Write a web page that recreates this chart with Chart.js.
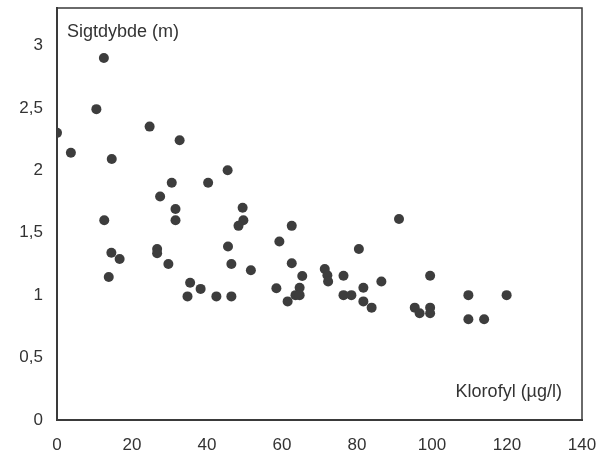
<!DOCTYPE html>
<html>
<head>
<meta charset="utf-8">
<script src="https://cdn.jsdelivr.net/npm/chart.js@4/dist/chart.umd.min.js"></script>
<style>
  html, body { margin: 0; padding: 0; background: #ffffff; }
  #wrap { width: 611px; height: 453px; position: relative; }
</style>
</head>
<body>
<div id="wrap"><canvas id="c" width="611" height="453"></canvas></div>
<script>
// Klorofyl (µg/l)
const klorofyl = [0, 3.7, 12.5, 10.5, 14.6, 24.7, 32.7, 45.5, 30.6, 40.3, 27.5, 31.6, 49.5, 12.6, 31.6, 49.7, 48.4, 62.6, 91.2,
  14.5, 16.7, 13.8, 26.7, 26.7, 29.7, 35.5, 38.3, 34.8, 42.5, 46.5, 45.6, 46.5, 51.7, 59.3, 62.6, 65.4, 58.5, 64.7, 63.6, 64.7, 61.5,
  80.5, 71.4, 72.1, 72.3, 76.4, 76.4, 78.5, 81.7, 81.7, 83.9, 86.5, 99.5, 95.4, 96.7, 99.5, 99.5, 109.7, 109.7, 113.9, 119.9];
// Sigtdybde (m)
const sigtdybde = [2.30, 2.14, 2.90, 2.49, 2.09, 2.35, 2.24, 2.00, 1.90, 1.90, 1.79, 1.69, 1.70, 1.60, 1.60, 1.60, 1.555, 1.555, 1.61,
  1.34, 1.29, 1.145, 1.37, 1.335, 1.25, 1.10, 1.05, 0.99, 0.99, 0.99, 1.39, 1.25, 1.20, 1.43, 1.255, 1.154, 1.055, 1.06, 1.0, 1.0, 0.95,
  1.37, 1.21, 1.16, 1.11, 1.155, 1.0, 1.0, 1.06, 0.95, 0.90, 1.11, 1.156, 0.90, 0.855, 0.90, 0.855, 1.00, 0.807, 0.807, 1.00];
const xTickValues = [0, 20, 40, 60, 80, 100, 120, 140];
const yTickValues = [0, 0.5, 1, 1.5, 2, 2.5, 3];
const yTitle = 'Sigtdybde (m)';
const xTitle = 'Klorofyl (µg/l)';

const points = klorofyl.map((x, i) => ({ x: x, y: sigtdybde[i] }));
const FONT = "'Liberation Sans', Arial, Helvetica, sans-serif";
const INK = '#333333';

const framePlugin = {
  id: 'frame',
  afterDraw(chart) {
    const a = chart.chartArea, ctx = chart.ctx;
    ctx.save();
    ctx.strokeStyle = '#3a3a3a';
    ctx.lineWidth = 1.5;
    ctx.beginPath();
    ctx.moveTo(a.left, a.top);
    ctx.lineTo(a.right, a.top);
    ctx.lineTo(a.right, a.bottom);
    ctx.stroke();
    ctx.fillStyle = INK;
    ctx.font = '18px ' + FONT;
    ctx.textBaseline = 'middle';
    ctx.textAlign = 'left';
    ctx.fillText(yTitle, a.left + 10, a.top + 24);
    ctx.textAlign = 'right';
    ctx.fillText(xTitle, a.right - 20, a.bottom - 28);
    ctx.restore();
  }
};

function noPad(axis) {
  axis.paddingTop = 0; axis.paddingBottom = 0;
  axis.paddingLeft = 0; axis.paddingRight = 0;
}

new Chart(document.getElementById('c'), {
  type: 'scatter',
  data: {
    datasets: [{
      data: points,
      backgroundColor: '#3d3d3d',
      borderColor: '#3d3d3d',
      borderWidth: 0,
      pointRadius: 5,
      pointHoverRadius: 5
    }]
  },
  options: {
    responsive: false,
    animation: false,
    events: [],
    layout: { padding: { left: 0, top: 8, right: 29, bottom: 0 } },
    plugins: { legend: { display: false }, tooltip: { enabled: false } },
    scales: {
      x: {
        type: 'linear',
        min: 0, max: 140,
        grid: { display: false, drawTicks: false },
        border: { display: true, color: '#3a3a3a', width: 2 },
        afterBuildTicks(axis) { axis.ticks = xTickValues.map(v => ({ value: v })); },
        afterFit(axis) { axis.height = 33; noPad(axis); },
        ticks: {
          padding: 15,
          maxRotation: 0,
          autoSkip: false,
          color: INK,
          font: { family: FONT, size: 17 },
          callback: (v) => String(v)
        }
      },
      y: {
        type: 'linear',
        min: 0, max: 3.3,
        grid: { display: false, drawTicks: false },
        border: { display: true, color: '#3a3a3a', width: 2 },
        afterBuildTicks(axis) { axis.ticks = yTickValues.map(v => ({ value: v })); },
        afterFit(axis) { axis.width = 57; noPad(axis); },
        ticks: {
          padding: 14,
          autoSkip: false,
          color: INK,
          font: { family: FONT, size: 17 },
          callback: (v) => String(v).replace('.', ',')
        }
      }
    }
  },
  plugins: [framePlugin]
});
</script>
</body>
</html>
